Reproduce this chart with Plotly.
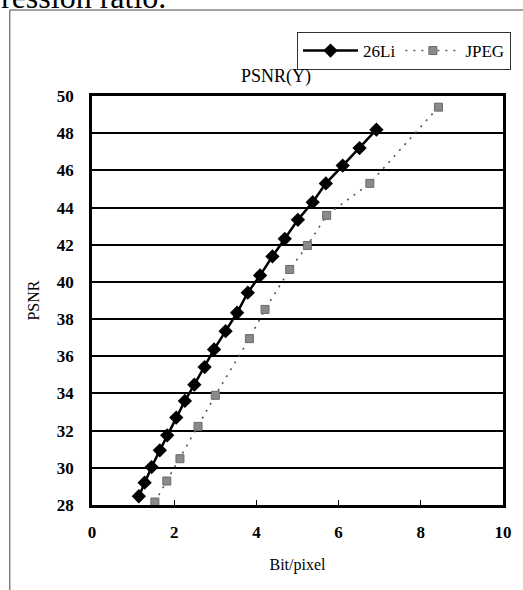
import plotly.graph_objects as go

li_x = [1.14, 1.28, 1.45, 1.65, 1.83, 2.05, 2.26, 2.49, 2.74, 2.97, 3.25,
        3.53, 3.79, 4.09, 4.39, 4.69, 5.01, 5.37, 5.69, 6.10, 6.51, 6.92]
li_y = [28.47, 29.2, 30.04, 30.94, 31.75, 32.7, 33.6, 34.47, 35.42, 36.37, 37.35,
        38.34, 39.42, 40.35, 41.37, 42.32, 43.34, 44.29, 45.3, 46.26, 47.2, 48.19]

jpeg_x = [1.53, 1.82, 2.14, 2.58, 3.0, 3.83, 4.21, 4.81, 5.24, 5.71, 6.76, 8.43]
jpeg_y = [28.16, 29.29, 30.49, 32.23, 33.9, 36.95, 38.52, 40.67, 41.96, 43.58, 45.3, 49.4]

x_ticks = [0, 2, 4, 6, 8, 10]
y_ticks = [28, 30, 32, 34, 36, 38, 40, 42, 44, 46, 48, 50]

W, H = 523, 590
L, R, T, B = 92, 16, 96, 85
PW, PH = W - L - R, H - T - B


def px(xp):
    return (xp - L) / PW


def py(yp):
    return (H - B - yp) / PH


SERIF = "Liberation Serif"

fig = go.Figure()
fig.add_trace(go.Scatter(
    x=li_x, y=li_y, name="26Li", mode="lines+markers",
    line=dict(color="black", width=2.5),
    marker=dict(symbol="diamond", size=11, color="black"),
))
fig.add_trace(go.Scatter(
    x=jpeg_x, y=jpeg_y, name="JPEG", mode="lines+markers",
    line=dict(color="#555555", width=1.6, dash="2px,6px"),
    marker=dict(symbol="square", size=8, color="#8a8a8a",
                line=dict(color="#6a6a6a", width=1)),
))

fig.update_layout(
    width=W, height=H, autosize=False,
    margin=dict(l=L, r=R, t=T, b=B),
    paper_bgcolor="white", plot_bgcolor="white",
    font=dict(family=SERIF, size=17, color="black"),
    showlegend=True,
    legend=dict(
        orientation="h", x=px(299), y=py(32), xanchor="left", yanchor="top",
        bordercolor="#333333", borderwidth=1, bgcolor="white",
        font=dict(family=SERIF, size=17, color="black"),
        itemwidth=55, tracegroupgap=0,
    ),
    xaxis=dict(
        range=[0, 10], tickvals=x_ticks, ticktext=[str(v) for v in x_ticks],
        showgrid=False, zeroline=False,
        showline=True, linecolor="black", linewidth=2.5, mirror=True,
        ticks="inside", ticklen=5, tickwidth=1, tickcolor="black",
        tickfont=dict(family=SERIF, size=17, weight="bold"),
        ticklabelstandoff=10,
        title=dict(text="Bit/pixel", font=dict(family=SERIF, size=16), standoff=18),
    ),
    yaxis=dict(
        range=[28, 50], tickvals=y_ticks, ticktext=[str(v) for v in y_ticks],
        showgrid=True, gridcolor="black", gridwidth=2,
        zeroline=False,
        showline=True, linecolor="black", linewidth=2.5, mirror=True,
        ticks="", tickfont=dict(family=SERIF, size=17, weight="bold"),
        ticklabelstandoff=12,
        title=dict(text="PSNR", font=dict(family=SERIF, size=16), standoff=14),
    ),
    annotations=[
        dict(text="PSNR(Y)", x=px(278), y=py(76), xref="paper", yref="paper",
             xanchor="center", yanchor="middle", showarrow=False,
             font=dict(family=SERIF, size=18)),
        dict(text="ression ratio.", x=px(-2), y=py(17), xref="paper", yref="paper",
             xanchor="left", yanchor="bottom", showarrow=False,
             font=dict(family=SERIF, size=32)),
    ],
    shapes=[
        dict(type="line", xref="paper", yref="paper",
             x0=px(9), x1=px(9), y0=py(600), y1=py(10),
             line=dict(color="#444444", width=1)),
        dict(type="line", xref="paper", yref="paper",
             x0=px(9), x1=px(530), y0=py(10), y1=py(10),
             line=dict(color="#444444", width=1)),
    ],
)

fig.write_html("out.html",
               config={"displayModeBar": False},
               post_script="document.body.style.margin='0';document.body.style.padding='0';")
